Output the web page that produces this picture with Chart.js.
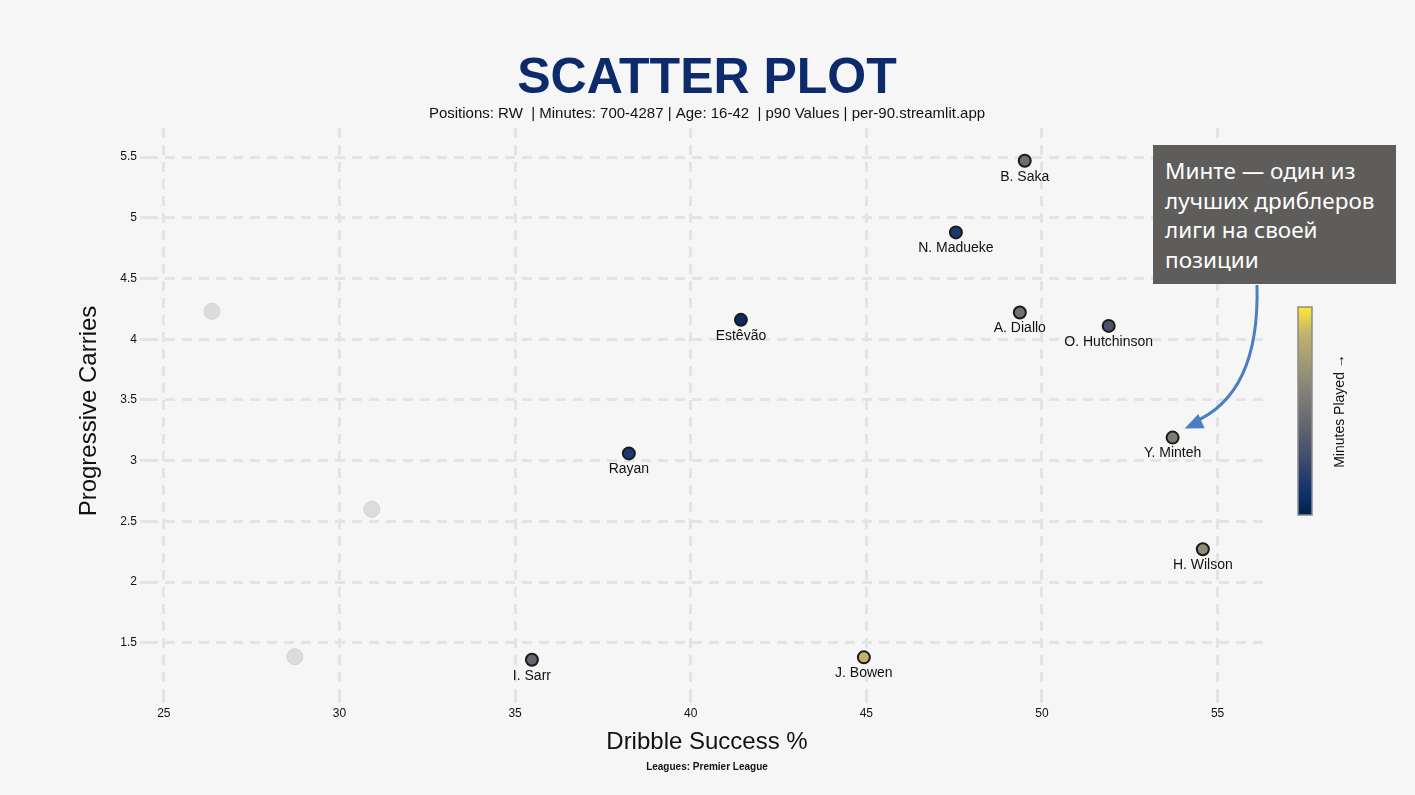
<!DOCTYPE html>
<html>
<head>
<meta charset="utf-8">
<script src="https://cdn.jsdelivr.net/npm/chart.js@4.4.1/dist/chart.umd.min.js"></script>
<style>
  body { margin: 0; background: #f6f6f6; }
  #wrap { position: relative; width: 1415px; height: 795px; }
  #note {
    position: absolute; left: 1153px; top: 145px; width: 243px; height: 139px;
    background: #5e5d5b; color: #fff; box-sizing: border-box;
    padding: 11px 6px 0 12px; font-family: "Noto Sans", sans-serif;
    font-size: 22.5px; line-height: 29.5px;
  }
</style>
</head>
<body>
<div id="wrap">
  <canvas id="myChart" width="1415" height="795"></canvas>
  <div id="note">Минте — один из лучших дриблеров лиги на своей позиции</div>
</div>
<script>
const players = ["B. Saka", "N. Madueke", "Estêvão", "A. Diallo", "O. Hutchinson", "Rayan", "Y. Minteh", "H. Wilson", "I. Sarr", "J. Bowen"];
const dribbleSuccess = [49.51, 47.55, 41.43, 49.37, 51.90, 38.24, 53.72, 54.58, 35.48, 44.93];
const progCarries = [5.47, 4.88, 4.16, 4.22, 4.11, 3.06, 3.19, 2.27, 1.36, 1.38];
const minutesPlayed = [1875, 1060, 845, 1880, 1445, 1060, 2045, 2285, 1755, 2790];

// players outside the filter (grey)
const otherDribble = [26.37, 28.73, 30.92];
const otherCarries = [4.23, 1.385, 2.60];

const xTicks = [25, 30, 35, 40, 45, 50, 55];
const yTicks = [1.5, 2, 2.5, 3, 3.5, 4, 4.5, 5, 5.5];

const minMin = 700;
const minMax = 3100;

// cividis
const cividis = ["#00224e", "#123570", "#3b496c", "#575d6d", "#707173", "#8a8678", "#a59c74", "#c3b369", "#fee838"];

function hexToRgb(h) {
  return [parseInt(h.slice(1, 3), 16), parseInt(h.slice(3, 5), 16), parseInt(h.slice(5, 7), 16)];
}
function cividisColor(t) {
  t = Math.max(0, Math.min(1, t));
  const pos = t * (cividis.length - 1);
  const i = Math.min(Math.floor(pos), cividis.length - 2);
  const f = pos - i;
  const a = hexToRgb(cividis[i]);
  const b = hexToRgb(cividis[i + 1]);
  const c = a.map((v, k) => Math.round(v + (b[k] - v) * f));
  return `rgb(${c[0]},${c[1]},${c[2]})`;
}

const mainPoints = dribbleSuccess.map((x, i) => ({ x, y: progCarries[i] }));
const otherPoints = otherDribble.map((x, i) => ({ x, y: otherCarries[i] }));
const pointColors = minutesPlayed.map((m) => cividisColor((m - minMin) / (minMax - minMin)));

const extras = {
  id: "extras",
  afterDraw(chart) {
    const ctx = chart.ctx;
    const meta = chart.getDatasetMeta(1);
    ctx.save();
    // names under points
    ctx.fillStyle = "#111";
    ctx.font = "14px 'Liberation Sans', Arial, sans-serif";
    ctx.textAlign = "center";
    ctx.textBaseline = "middle";
    meta.data.forEach((pt, i) => {
      ctx.fillText(players[i], pt.x, pt.y + 16);
    });

    // title + texts
    ctx.fillStyle = "#0d2a6b";
    ctx.font = "bold 50px 'Liberation Sans', Arial, sans-serif";
    ctx.fillText("SCATTER PLOT", 707, 79);
    ctx.fillStyle = "#111";
    ctx.font = "15px 'Liberation Sans', Arial, sans-serif";
    ctx.fillText("Positions: RW  | Minutes: 700-4287 | Age: 16-42  | p90 Values | per-90.streamlit.app", 707, 114);
    ctx.font = "24px 'Liberation Sans', Arial, sans-serif";
    ctx.fillText("Dribble Success %", 707, 742);
    ctx.font = "bold 10px 'Liberation Sans', Arial, sans-serif";
    ctx.fillText("Leagues: Premier League", 707, 767);
    ctx.save();
    ctx.translate(89, 411);
    ctx.rotate(-Math.PI / 2);
    ctx.font = "24px 'Liberation Sans', Arial, sans-serif";
    ctx.fillText("Progressive Carries", 0, 0);
    ctx.restore();

    // colorbar
    const cbX = 1298, cbTop = 307, cbW = 14, cbH = 208;
    const grad = ctx.createLinearGradient(0, cbTop + cbH, 0, cbTop);
    cividis.forEach((c, i) => grad.addColorStop(i / (cividis.length - 1), c));
    ctx.fillStyle = grad;
    ctx.fillRect(cbX, cbTop, cbW, cbH);
    ctx.strokeStyle = "#8a8a8a";
    ctx.lineWidth = 1.5;
    ctx.strokeRect(cbX, cbTop, cbW, cbH);
    ctx.save();
    ctx.translate(1340, 411);
    ctx.rotate(-Math.PI / 2);
    ctx.fillStyle = "#111";
    ctx.font = "14px 'Liberation Sans', Arial, sans-serif";
    ctx.fillText("Minutes Played →", 0, 0);
    ctx.restore();

    // arrow to Minteh
    const target = meta.data[players.indexOf("Y. Minteh")];
    const ex = target.x + 12, ey = target.y - 9;
    const sx = 1257, sy = 285;
    const cx = 1260, cy = 395;
    ctx.strokeStyle = "#4a7fc0";
    ctx.fillStyle = "#4a7fc0";
    ctx.lineWidth = 3;
    ctx.beginPath();
    ctx.moveTo(sx, sy);
    ctx.quadraticCurveTo(cx, cy, ex + 8, ey - 6);
    ctx.stroke();
    const ang = Math.atan2(ey - cy, ex - cx);
    const len = 20;
    ctx.beginPath();
    ctx.moveTo(ex, ey);
    ctx.lineTo(ex - len * Math.cos(ang - 0.4), ey - len * Math.sin(ang - 0.4));
    ctx.lineTo(ex - len * Math.cos(ang + 0.4), ey - len * Math.sin(ang + 0.4));
    ctx.closePath();
    ctx.fill();
    ctx.restore();
  },
};

const bg = {
  id: "bg",
  beforeDraw(chart) {
    const ctx = chart.ctx;
    ctx.save();
    ctx.fillStyle = "#f6f6f6";
    ctx.fillRect(0, 0, chart.width, chart.height);
    ctx.restore();
  },
};

const grid = {
  color: "#e4e4e4",
  lineWidth: 3,
  drawTicks: true,
  tickLength: 8,
  tickColor: "#e4e4e4",
};

const tickFont = { size: 12, family: "'Liberation Sans', Arial" };

const config = {
  type: "scatter",
  data: {
    datasets: [
      {
        label: "Others",
        data: otherPoints,
        backgroundColor: "#dcdcdc",
        borderColor: "#d4d4d4",
        borderWidth: 1,
        pointRadius: 8,
      },
      {
        label: "RW",
        data: mainPoints,
        backgroundColor: pointColors,
        borderColor: "#1a1a1a",
        borderWidth: 2,
        pointRadius: 6,
      },
    ],
  },
  options: {
    responsive: false,
    animation: false,
    layout: { padding: { left: 0, right: 150, top: 128, bottom: 70 } },
    plugins: { legend: { display: false }, tooltip: { enabled: false } },
    scales: {
      x: {
        type: "linear",
        min: 24.55,
        max: 56.35,
        afterBuildTicks: (s) => { s.ticks = xTicks.map((v) => ({ value: v })); },
        afterFit: (s) => { s.height = 30; },
        border: { display: false, dash: [10, 7] },
        grid,
        ticks: { color: "#111", font: tickFont, padding: 3, autoSkip: false, maxRotation: 0 },
      },
      y: {
        type: "linear",
        min: 1.07,
        max: 5.74,
        afterBuildTicks: (s) => { s.ticks = yTicks.map((v) => ({ value: v })); },
        afterFit: (s) => { s.width = 148; },
        border: { display: false, dash: [10, 7] },
        grid,
        ticks: { color: "#111", font: tickFont, padding: 3, autoSkip: false, callback: (v) => String(v) },
      },
    },
  },
  plugins: [bg, extras],
};

new Chart(document.getElementById("myChart"), config);
</script>
</body>
</html>
